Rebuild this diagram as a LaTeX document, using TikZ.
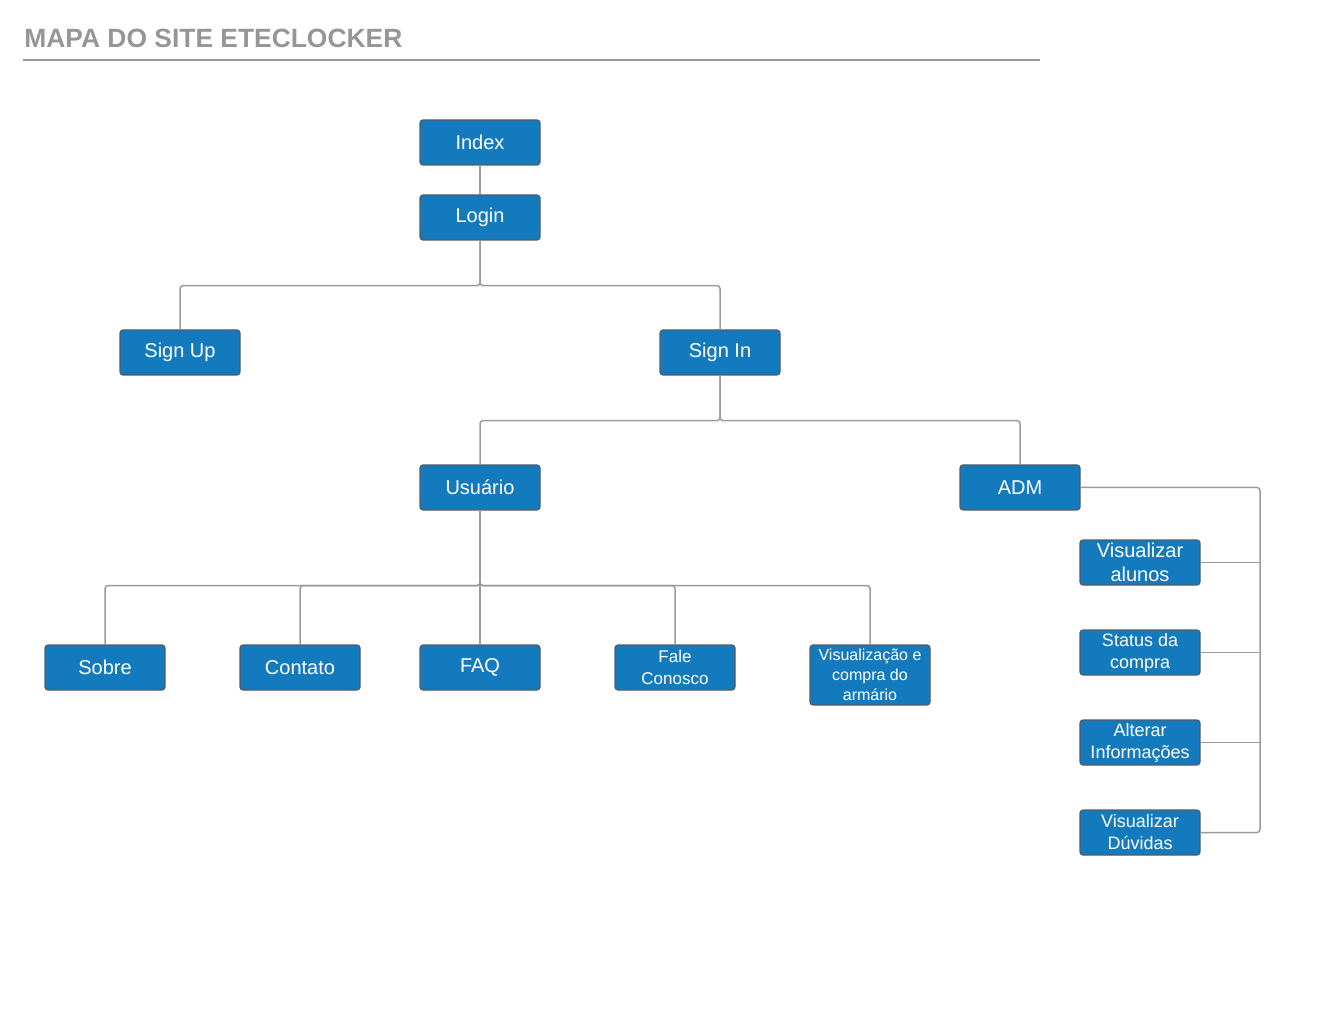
\documentclass[tikz,border=0pt]{standalone}
\usepackage{fontspec}
\setmainfont{Liberation Sans}
\definecolor{boxblue}{RGB}{20,122,190}
\definecolor{boxrim}{RGB}{80,92,104}
\definecolor{linkgray}{RGB}{155,155,155}
\definecolor{titlegray}{RGB}{150,150,150}
\tikzset{
  page/.style={draw=boxrim, line width=0.6pt, fill=boxblue, text=white, rounded corners=1.5pt,
    minimum width=60pt, minimum height=22.5pt, inner sep=1pt, align=center,
    font=\fontsize{10}{12}\selectfont},
  link/.style={draw=linkgray, line width=0.75pt, rounded corners=1.5pt}
}
\begin{document}
\begin{tikzpicture}[x=0.5pt,y=-0.5pt]
		    	\useasboundingbox (0,0) rectangle (1320,1020);
		    	\node[anchor=base west, inner sep=0pt, text=titlegray, font=\bfseries\fontsize{13.2}{16}\selectfont] (TT) at (24,48) {MAPA DO SITE ETECLOCKER};
		    	\draw[linkgray, line width=0.75pt] (23,60) -- (1040,60);
		    	
		    	\node[page] (IN) at (480,142.5) {Index};
		    	\node[page] (LO) at (480,217.5) {Login};
		    	\node[page] (SU) at (180,352.5) {Sign Up};
		    	\node[page] (SI) at (720,352.5) {Sign In};
		    	\node[page] (US) at (480,487.5) {Usuário};
		    	\node[page] (AD) at (1020,487.5) {ADM};
		    	\node[page] (SO) at (105,667.5) {Sobre};
		    	\node[page] (CO) at (300,667.5) {Contato};
		    	\node[page] (FQ) at (480,667.5) {FAQ};
		    	\node[page, font=\fontsize{8.5}{11}\selectfont] (FC) at (675,667.5) {Fale\\Conosco};
		    	\node[page, minimum height=30pt, font=\fontsize{8}{10}\selectfont] (VC) at (870,675) {Visualização e\\compra do\\armário};
		    	\node[page, font=\fontsize{10}{12}\selectfont] (VA) at (1140,562.5) {Visualizar\\alunos};
		    	\node[page, font=\fontsize{9}{11}\selectfont] (SC) at (1140,652.5) {Status da\\compra};
		    	\node[page, font=\fontsize{9}{11}\selectfont] (AI) at (1140,742.5) {Alterar\\Informações};
		    	\node[page, font=\fontsize{9}{11}\selectfont] (VD) at (1140,832.5) {Visualizar\\Dúvidas};
		    	\coordinate (AT) at (1260,487.5);
		    	
		    	\draw[link] (IN)--(LO);
		    	\draw[link] (LO.south) -- ++(0,45) -| (SU.north);
		    	\draw[link] (LO.south) -- ++(0,45) -| (SI.north);
		    	\draw[link] (SI.south) -- ++(0,45) -| (US.north);
		    	\draw[link] (SI.south) -- ++(0,45) -| (AD.north);
		    	\draw[link] (US.south) -- ++(0,75) -| (SO.north);
		    	\draw[link] (US.south) -- ++(0,75) -| (CO.north);
		    	\draw[link] (US)--(FQ);
		    	\draw[link] (US.south) -- ++(0,75) -| (FC.north);
		    	\draw[link] (US.south) -- ++(0,75) -| (VC.north);
		    	\draw[link] (AD.east) -- (AT) |- (VD.east);
		    	\draw[link] (VA.east) -- (VA.east -| AT);
		    	\draw[link] (SC.east) -- (SC.east -| AT);
		    	\draw[link] (AI.east) -- (AI.east -| AT);
		    \end{tikzpicture}
\end{document}
